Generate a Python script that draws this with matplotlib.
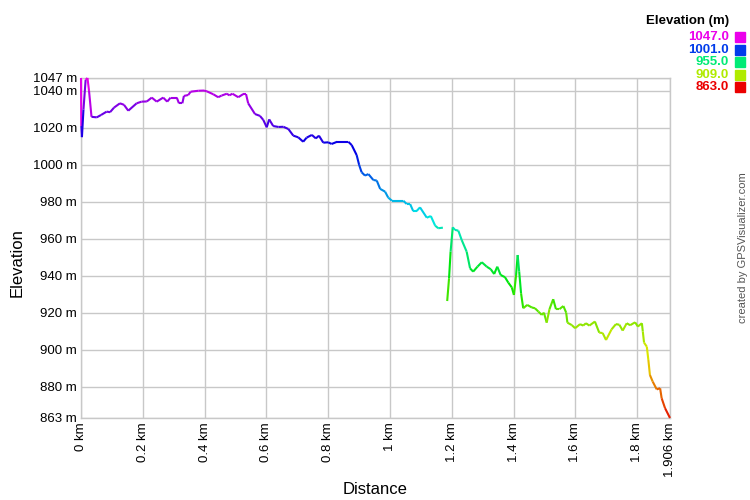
import numpy as np
import matplotlib
matplotlib.use("Agg")
import matplotlib.pyplot as plt
from matplotlib.collections import LineCollection
from matplotlib.colors import hsv_to_rgb

plt.rcParams['font.family'] = ['Liberation Sans', 'DejaVu Sans']

# track profile: distance (km) and elevation (m); NaN marks a break in the track
dist_km = [
    0.000, 0.001, 0.003, 0.008, 0.015, 0.021, 0.026, 0.034, 0.051, 0.065,
    0.083, 0.094, 0.107, 0.126, 0.139, 0.153, 0.180, 0.196, 0.213, 0.229,
    0.245, 0.266, 0.279, 0.290, 0.310, 0.317, 0.328, 0.333, 0.347, 0.355,
    0.380, 0.398, 0.407, 0.428, 0.444, 0.455, 0.472, 0.480, 0.490, 0.509,
    0.525, 0.534, 0.541, 0.563, 0.579, 0.590, 0.601, 0.609, 0.622, 0.639,
    0.655, 0.671, 0.687, 0.703, 0.719, 0.730, 0.747, 0.760, 0.770, 0.784,
    0.800, 0.811, 0.829, 0.865, 0.876, 0.892, 0.900, 0.908, 0.919, 0.930,
    0.946, 0.957, 0.968, 0.984, 0.994, 1.006, 1.043, 1.054, 1.065, 1.075,
    1.086, 1.097, 1.119, 1.132, 1.146, 1.156, 1.171, 1.178,
    1.185, 1.191, 1.196, 1.203, 1.210, 1.221, 1.232, 1.248, 1.259, 1.269,
    1.283, 1.297, 1.313, 1.326, 1.337, 1.347, 1.358, 1.372, 1.383, 1.394,
    1.401, 1.408, 1.413, 1.418, 1.424, 1.431, 1.444, 1.459, 1.469, 1.480,
    1.491, 1.498, 1.507, 1.516, 1.528, 1.537, 1.548, 1.561, 1.570, 1.574,
    1.588, 1.599, 1.615, 1.625, 1.634, 1.645, 1.663, 1.677, 1.688, 1.699,
    1.717, 1.731, 1.742, 1.753, 1.766, 1.777, 1.793, 1.802, 1.815, 1.818,
    1.822, 1.831, 1.836, 1.841, 1.850, 1.863, 1.874, 1.879, 1.890, 1.906,
]
elev_m = [
    1047.0, 1021.0, 1015.0, 1030.0, 1046.0, 1047.0, 1040.0, 1026.0, 1025.7, 1027.0,
    1028.8, 1028.5, 1031.0, 1033.3, 1032.5, 1029.3, 1033.3, 1034.2, 1034.3, 1036.4,
    1034.2, 1036.4, 1034.2, 1036.4, 1036.4, 1033.3, 1033.3, 1037.3, 1037.8, 1039.6,
    1040.1, 1040.2, 1039.8, 1038.2, 1036.6, 1037.5, 1038.5, 1037.6, 1038.5, 1036.6,
    1038.3, 1038.3, 1033.3, 1027.5, 1026.5, 1024.3, 1020.3, 1024.6, 1021.0, 1020.5,
    1020.6, 1019.4, 1015.8, 1014.9, 1012.5, 1014.7, 1016.2, 1014.3, 1015.8, 1012.0,
    1012.2, 1011.3, 1012.5, 1012.5, 1010.7, 1005.3, 1000.0, 996.0, 994.2, 995.0,
    991.8, 991.5, 987.0, 985.5, 982.3, 980.6, 980.6, 978.8, 978.8, 975.0,
    975.0, 977.0, 971.4, 972.3, 967.1, 965.7, 966.0, np.nan,
    926.3, 938.6, 953.0, 966.2, 964.8, 964.4, 959.3, 953.0, 944.0, 942.2,
    944.9, 947.3, 944.9, 943.5, 940.9, 944.9, 940.4, 939.2, 936.2, 933.7,
    929.6, 940.4, 951.2, 942.2, 930.5, 922.4, 924.2, 922.8, 922.4, 920.6,
    918.8, 920.0, 914.6, 921.9, 927.3, 921.9, 921.9, 923.6, 920.0, 914.6,
    913.3, 911.6, 913.8, 913.0, 914.3, 913.0, 915.2, 909.2, 909.0, 905.2,
    911.0, 913.8, 913.5, 910.3, 914.3, 913.2, 914.8, 912.5, 914.3, 909.8,
    903.8, 901.6, 894.4, 886.3, 882.7, 878.5, 879.1, 873.7, 868.3, 863.0,
]

elev_min = 863.0
elev_max = 1047.0
legend_values = [1047.0, 1001.0, 955.0, 909.0, 863.0]

x_ticks = [0, 0.2, 0.4, 0.6, 0.8, 1.0, 1.2, 1.4, 1.6, 1.8, 1.906]
x_labels = ['0 km', '0.2 km', '0.4 km', '0.6 km', '0.8 km', '1 km',
            '1.2 km', '1.4 km', '1.6 km', '1.8 km', '1.906 km']
y_ticks = [863, 880, 900, 920, 940, 960, 980, 1000, 1020, 1040, 1047]
y_labels = ['%d m' % v for v in y_ticks]


def elev_color(e, value=0.9):
    # hue runs from red (lowest) to magenta (highest)
    h = (e - elev_min) / (elev_max - elev_min) * (300.0 / 360.0)
    h = min(max(h, 0.0), 300.0 / 360.0)
    return hsv_to_rgb([h, 1.0, value])


x = np.array(dist_km)
y = np.array(elev_m)
pts = np.column_stack([x, y])
segs, cols = [], []
for i in range(len(x) - 1):
    if np.isnan(y[i]) or np.isnan(y[i + 1]):
        continue
    segs.append(pts[i:i + 2])
    cols.append(elev_color(y[i]))

fig = plt.figure(figsize=(7.5, 5), dpi=100)
ax = fig.add_axes([81 / 750, 82 / 500, 589 / 750, 340 / 500])

lc = LineCollection(segs, colors=cols, linewidths=1.5, capstyle='butt', zorder=3)
lc.set_clip_on(False)
ax.add_collection(lc)

ax.set_xlim(0, 1.906)
ax.set_ylim(elev_min, elev_max)
ax.set_xticks(x_ticks)
ax.set_xticklabels(x_labels, rotation=90, fontsize=9.5)
ax.set_yticks(y_ticks)
ax.set_yticklabels(y_labels, fontsize=9.5)
ax.tick_params(length=0, pad=3)
ax.grid(True, color='#c8c8c8', linewidth=1)
for s in ax.spines.values():
    s.set_color('#c8c8c8')
    s.set_linewidth(1)
ax.set_axisbelow(True)

fig.text(375 / 750, 1 - 489 / 500, 'Distance', ha='center', va='center', fontsize=12)
fig.text(17 / 750, 1 - 263 / 500, 'Elevation', ha='center', va='center',
         rotation=90, fontsize=12)
fig.text(743 / 750, 1 - 248 / 500, 'created by GPSVisualizer.com', ha='center',
         va='center', rotation=90, fontsize=8, color='#555555')

# colour legend, top right
fig.text(729 / 750, 1 - 21 / 500, 'Elevation (m)', ha='right', va='center',
         fontsize=9.5, fontweight='bold')
for k, v in enumerate(legend_values):
    yy = 1 - (37 + k * 12.6) / 500
    c = elev_color(v, value=0.92)
    fig.text(729 / 750, yy, '%.1f' % v, ha='right', va='center', fontsize=9.5,
             fontweight='bold', color=c)
    fig.patches.append(plt.Rectangle((735 / 750, yy - 5 / 500), 10 / 750, 10 / 500,
                                     transform=fig.transFigure, color=c,
                                     figure=fig))

fig.savefig('out.png', dpi=100)
